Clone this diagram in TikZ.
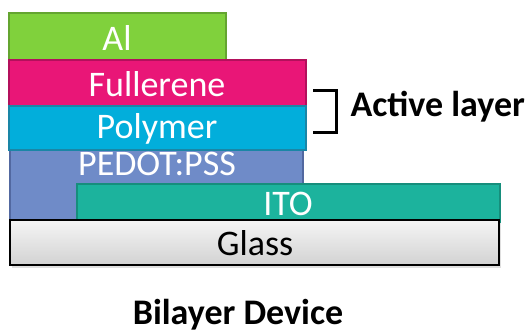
\documentclass[tikz,border=0pt]{standalone}
\usepackage{fontspec}
\setmainfont{Carlito}
\definecolor{alfill}{HTML}{80D13C}
\definecolor{aldraw}{HTML}{64A530}
\definecolor{fulfill}{HTML}{E91677}
\definecolor{fuldraw}{HTML}{B3105C}
\definecolor{polfill}{HTML}{02AEDB}
\definecolor{poldraw}{HTML}{1A86A6}
\definecolor{pedfill}{HTML}{6F8BC8}
\definecolor{peddraw}{HTML}{5268A0}
\definecolor{itofill}{HTML}{1CB39D}
\definecolor{itodraw}{HTML}{168E7C}
\begin{document}
\begin{tikzpicture}[x=1pt,y=-1pt,
  layerbox/.style={rectangle, line width=2pt, inner sep=0pt, outer sep=0pt, anchor=north west},
  whitetext/.style={text=white, font=\fontsize{36}{36}\selectfont},
  blacktext/.style={text=black, font=\fontsize{36}{36}\selectfont},
  boldtext/.style={text=black, font=\bfseries\fontsize{36}{36}\selectfont}]
\useasboundingbox (0,0) rectangle (528,332);

% substrate stack, bottom layers first
\node[layerbox, draw=peddraw, fill=pedfill, minimum width=293pt, minimum height=75pt] (pedot) at (10,150) {};
\node[layerbox, draw=itodraw, fill=itofill, minimum width=423pt, minimum height=38pt] (ito) at (77,184) {};
\fill[black!25, opacity=0.5] (12,223) rectangle (501,268);
\node[layerbox, draw=black, top color=gray!8, bottom color=gray!35, minimum width=489pt, minimum height=45pt] (glass) at (10,220) {};

% active layers and cathode
\node[layerbox, draw=aldraw, fill=alfill, minimum width=217pt, minimum height=47pt] (al) at (9,13) {};
\node[layerbox, draw=fuldraw, fill=fulfill, minimum width=297pt, minimum height=46pt] (ful) at (9,60) {};
\node[layerbox, draw=poldraw, fill=polfill, minimum width=297pt, minimum height=44pt] (pol) at (9,106) {};

% layer labels
\node[whitetext] (altxt) at (117,38) {Al};
\node[whitetext] (fultxt) at (157,84) {Fullerene};
\node[whitetext] (poltxt) at (157,129) {Polymer};
\node[whitetext] (pedtxt) at (157,164) {PEDOT:PSS};
\node[whitetext] (itotxt) at (288,204) {ITO};
\node[blacktext] (glasstxt) at (255,243) {Glass};

% bracket marking the active layer
\coordinate (bt) at (313,90);
\coordinate (bb) at (313,132);
\draw[line width=3pt, line join=miter] (bt) -- ++(23,0) |- (bb);
\node[boldtext, anchor=west] (active) at (347,107) {Active layer};

\node[boldtext, anchor=base] (title) at (238,324) {Bilayer Device};
\end{tikzpicture}
\end{document}
